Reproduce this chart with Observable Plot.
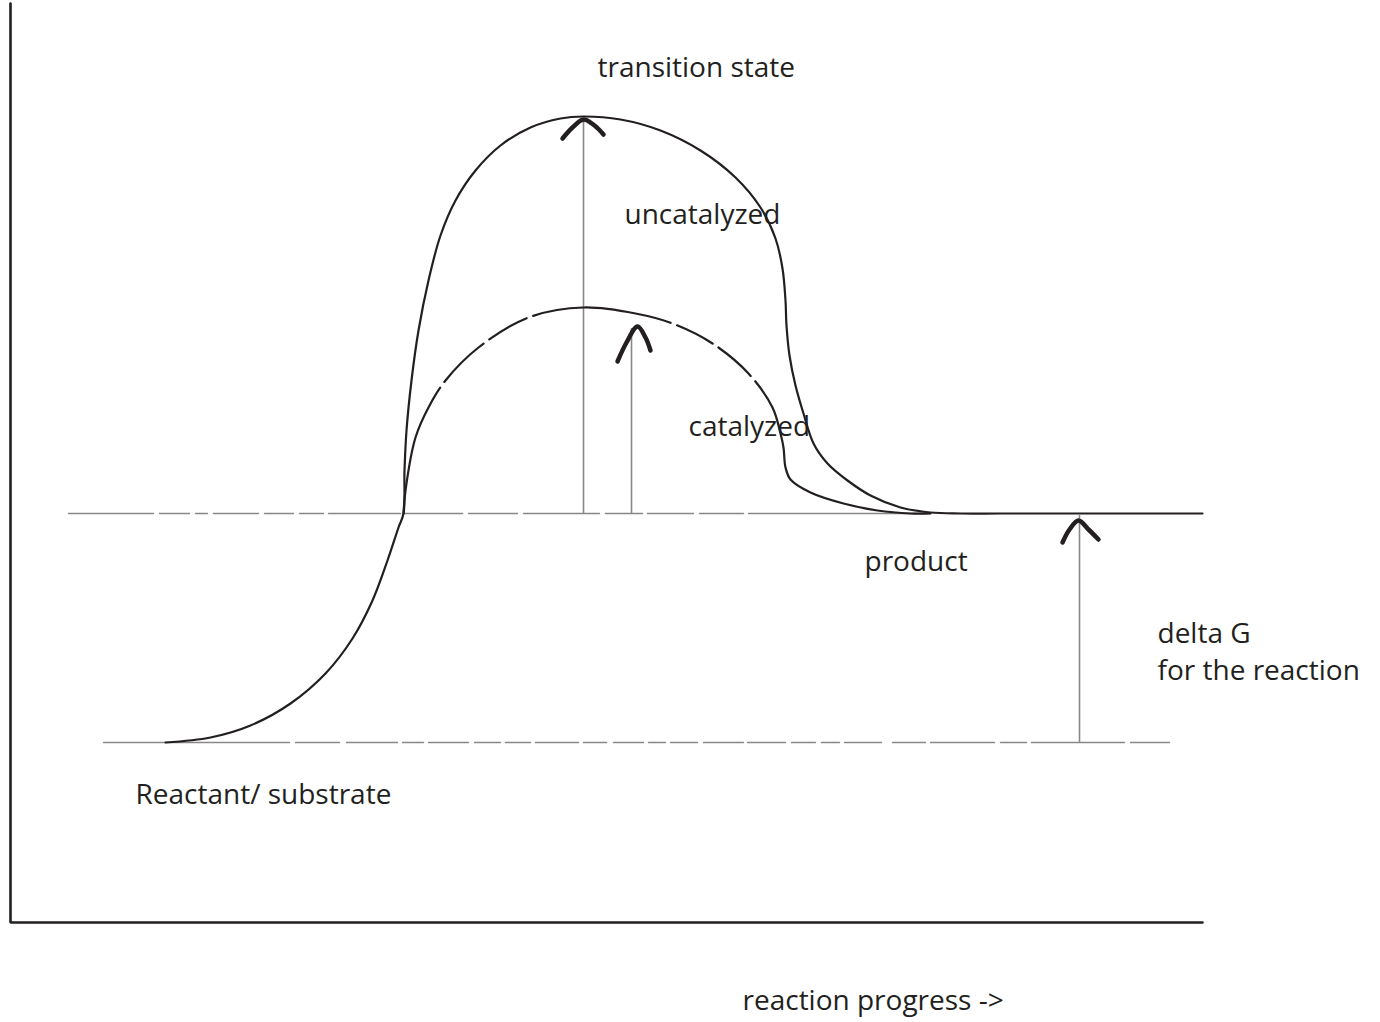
<!DOCTYPE html>
<html>
<head>
<meta charset="utf-8">
<script src="https://cdn.jsdelivr.net/npm/d3@7"></script>
<script src="https://cdn.jsdelivr.net/npm/@observablehq/plot@0.6"></script>
<style>
  html, body { margin: 0; padding: 0; background: #ffffff; }
  #chart svg { display: block; }
</style>
</head>
<body>
<div id="chart"></div>
<script>
// Coordinates: x = reaction progress, y = energy (y axis drawn downward)
const axisFrame = [
  {x: 10, y: 3}, {x: 10, y: 922}, {x: 1202, y: 922}
];

const reactantLevel = [{x: 103, y: 742}, {x: 1169, y: 742}];
const productLevel = [{x: 68, y: 513}, {x: 930, y: 513}];

const uncatalyzed = [
  {x: 165, y: 742}, {x: 210, y: 737}, {x: 250, y: 725}, {x: 290, y: 703},
  {x: 325, y: 673}, {x: 352, y: 638}, {x: 372, y: 600}, {x: 387, y: 560},
  {x: 398, y: 527}, {x: 403, y: 513}, {x: 404, y: 470}, {x: 406, y: 430},
  {x: 411, y: 380}, {x: 418, y: 330}, {x: 428, y: 280}, {x: 440, y: 235},
  {x: 455, y: 200}, {x: 475, y: 170}, {x: 500, y: 145}, {x: 530, y: 127},
  {x: 560, y: 118}, {x: 583, y: 116}, {x: 620, y: 119}, {x: 660, y: 130},
  {x: 700, y: 150}, {x: 735, y: 177}, {x: 760, y: 207}, {x: 775, y: 238},
  {x: 782, y: 268}, {x: 785, y: 300}, {x: 786, y: 325}, {x: 789, y: 355},
  {x: 795, y: 385}, {x: 803, y: 413}, {x: 813, y: 443}, {x: 827, y: 463},
  {x: 847, y: 480}, {x: 870, y: 495}, {x: 900, y: 507}, {x: 930, y: 512},
  {x: 960, y: 513}, {x: 1000, y: 513}, {x: 1100, y: 513}, {x: 1202, y: 513}
];

const catalyzed = [
  {x: 403, y: 513}, {x: 405, y: 490}, {x: 415, y: 437}, {x: 428, y: 407},
  {x: 445, y: 380}, {x: 478, y: 347}, {x: 528, y: 317}, {x: 583, y: 307},
  {x: 635, y: 313}, {x: 672, y: 323}, {x: 712, y: 343}, {x: 748, y: 373},
  {x: 772, y: 407}, {x: 780, y: 433}, {x: 783, y: 447}, {x: 785, y: 467},
  {x: 790, y: 479}, {x: 810, y: 492}, {x: 843, y: 503}, {x: 877, y: 510},
  {x: 910, y: 513}, {x: 930, y: 513}
];

// arrows: shaft from base to tip
const arrowShafts = [
  {name: "uncatalyzed", x: 583, y1: 513, y2: 118},
  {name: "catalyzed", x: 631, y1: 513, y2: 328},
  {name: "deltaG", x: 1079, y1: 742, y2: 515}
];

// arrow heads (chevrons)
const arrowHeads = [
  {name: "uncatalyzed", x: 562, y: 138}, {name: "uncatalyzed", x: 572, y: 127},
  {name: "uncatalyzed", x: 583, y: 119}, {name: "uncatalyzed", x: 594, y: 125},
  {name: "uncatalyzed", x: 603, y: 134},
  {name: "catalyzed", x: 617, y: 361}, {name: "catalyzed", x: 626, y: 342},
  {name: "catalyzed", x: 637, y: 326}, {name: "catalyzed", x: 645, y: 337},
  {name: "catalyzed", x: 650, y: 350},
  {name: "deltaG", x: 1062, y: 542}, {name: "deltaG", x: 1069, y: 529},
  {name: "deltaG", x: 1078, y: 520}, {name: "deltaG", x: 1088, y: 529},
  {name: "deltaG", x: 1098, y: 539}
];

const labels = [
  {text: "transition state", x: 597, y: 68},
  {text: "uncatalyzed", x: 624, y: 215},
  {text: "catalyzed", x: 688, y: 427},
  {text: "product", x: 864, y: 562},
  {text: "delta G", x: 1157, y: 634},
  {text: "for the reaction", x: 1157, y: 671},
  {text: "Reactant/ substrate", x: 135, y: 795},
  {text: "reaction progress ->", x: 742, y: 1001}
];

const ink = "#231f20";
const grey = "#888888";

const chart = Plot.plot({
  width: 1380,
  height: 1022,
  margin: 0,
  style: {background: "#ffffff", overflow: "visible"},
  x: {domain: [0, 1380], axis: null},
  y: {domain: [0, 1022], reverse: true, axis: null},
  marks: [
    Plot.line(reactantLevel, {
      x: "x", y: "y", stroke: grey, strokeWidth: 1.4,
      strokeDasharray: "186,6,44,7,51,5,21,5,40,6,26,5,25,5,43,5,23,7,30,5,17,5,27,6,40,4,38,6,24,6,18,5,37,11,33,5,64,6,26,5,93,6,39,100"
    }),
    Plot.line(productLevel, {
      x: "x", y: "y", stroke: grey, strokeWidth: 1.4,
      strokeDasharray: "85,6,30,6,12,6,45,6,29,6,24,5,72,3,59,6,49,6,76,6,37,5,46,6,44,5,400"
    }),
    Plot.ruleX(arrowShafts, {x: "x", y1: "y1", y2: "y2", stroke: grey, strokeWidth: 1.6}),
    Plot.line(axisFrame, {x: "x", y: "y", stroke: ink, strokeWidth: 2.6, strokeLinejoin: "miter"}),
    Plot.line(uncatalyzed, {x: "x", y: "y", stroke: ink, strokeWidth: 2.2, curve: "catmull-rom"}),
    Plot.line(catalyzed, {
      x: "x", y: "y", stroke: ink, strokeWidth: 2.2, curve: "catmull-rom",
      strokeDasharray: "133,7,55,7,43,7,140,7,40,7,43,7,600"
    }),
    Plot.line(arrowHeads, {
      x: "x", y: "y", z: "name", stroke: ink, strokeWidth: 4.5,
      strokeLinecap: "round", curve: "catmull-rom"
    }),
    Plot.text(labels, {
      x: "x", y: "y", text: "text", textAnchor: "start", lineAnchor: "middle",
      fontSize: 28, fontFamily: "Open Sans", fill: ink
    })
  ]
});

document.getElementById("chart").appendChild(chart);
</script>
</body>
</html>
